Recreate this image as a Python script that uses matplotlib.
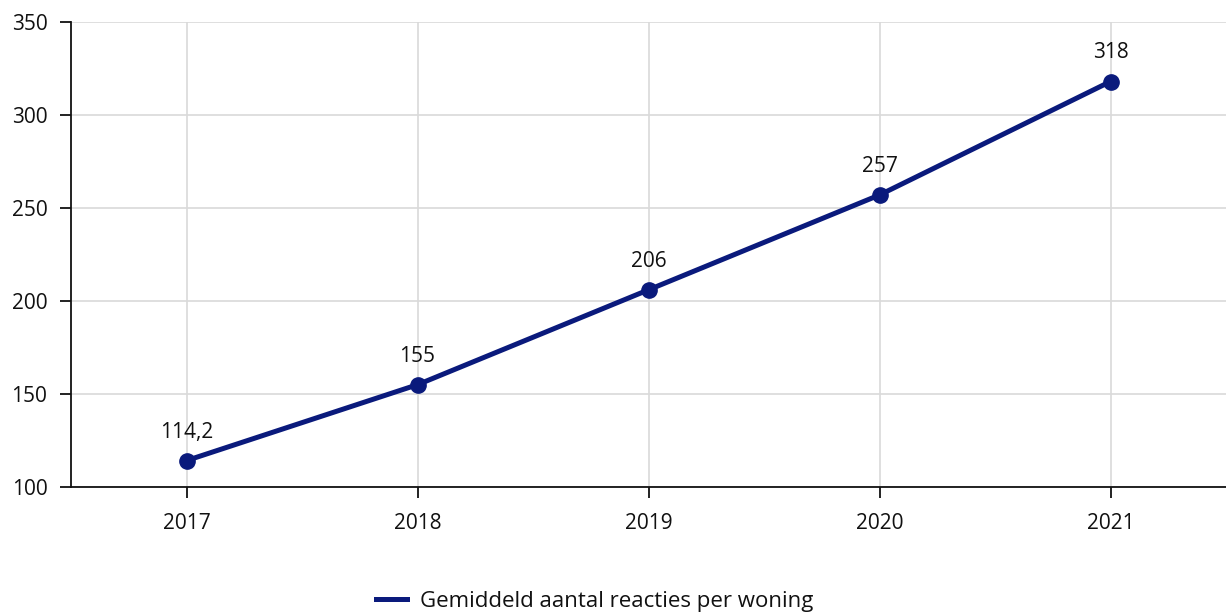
"""Gemiddeld aantal reacties per woning, 2017-2021."""

import matplotlib.pyplot as plt

YEARS = ["2017", "2018", "2019", "2020", "2021"]
REACTIES = [114.2, 155, 206, 257, 318]
LABELS = ["114,2", "155", "206", "257", "318"]
Y_TICKS = [100, 150, 200, 250, 300, 350]

LINE_COLOR = "#0a1a7c"
TEXT_COLOR = "#111111"

plt.rcParams["font.family"] = ["Open Sans", "DejaVu Sans"]

figure = plt.figure(figsize=(12.26, 6.16), dpi=100)
axis = figure.add_axes([71 / 1226, 1 - 487 / 616, 1 - 71 / 1226, (487 - 22) / 616])

positions = list(range(len(YEARS)))
axis.plot(
    positions,
    REACTIES,
    color=LINE_COLOR,
    linewidth=3.6,
    marker="o",
    markersize=11,
    label="Gemiddeld aantal reacties per woning",
    zorder=3,
)
for x, y, text in zip(positions, REACTIES, LABELS):
    axis.annotate(
        text,
        (x, y),
        xytext=(0, 13),
        textcoords="offset points",
        ha="center",
        va="bottom",
        fontsize=15,
        color=TEXT_COLOR,
    )

axis.set_xlim(-0.5, len(YEARS) - 0.5)
axis.set_ylim(100, 350)
axis.set_xticks(positions, YEARS)
axis.set_yticks(Y_TICKS)
axis.tick_params(axis="both", labelsize=15, length=8, width=1.3, colors=TEXT_COLOR)
axis.tick_params(axis="x", pad=11)
axis.tick_params(axis="y", pad=9)
axis.grid(True, color="#d9d9d9", linewidth=1.2)
axis.set_axisbelow(True)
for side in ("top", "right"):
    axis.spines[side].set_visible(False)
for side in ("left", "bottom"):
    axis.spines[side].set_linewidth(1.3)
    axis.spines[side].set_color(TEXT_COLOR)

figure.legend(
    handles=[plt.Line2D([], [], color=LINE_COLOR, linewidth=3.6)],
    labels=["Gemiddeld aantal reacties per woning"],
    loc="center",
    bbox_to_anchor=(0.485, 1 - 601 / 616),
    frameon=False,
    fontsize=16,
    handlelength=1.4,
    handletextpad=0.55,
    labelcolor=TEXT_COLOR,
)

figure.savefig("out.png", dpi=100)
